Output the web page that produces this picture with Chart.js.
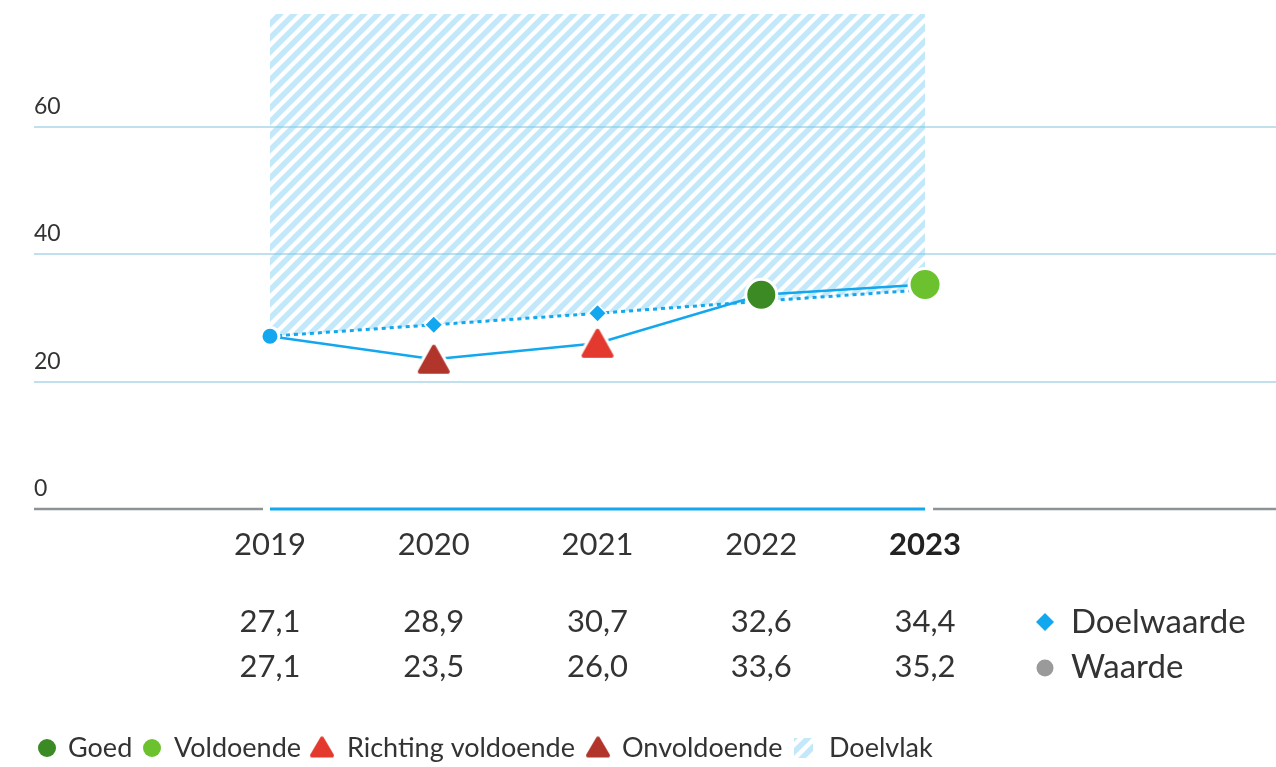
<!DOCTYPE html>
<html><head><meta charset="utf-8">
<script src="https://cdn.jsdelivr.net/npm/chart.js@4.4.1/dist/chart.umd.min.js"></script>
<style>html,body{margin:0;padding:0;background:#fff;overflow:hidden;}#wrap{width:1276px;height:767px;position:relative;overflow:hidden;}canvas{display:block;}</style>
</head><body><div id="wrap"><canvas id="c"></canvas></div>
<script>
// ---- data ----
const years = ['2019', '2020', '2021', '2022', '2023'];
const doelwaarde = [27.1, 28.9, 30.7, 32.6, 34.4];
const waarde = [27.1, 23.5, 26.0, 33.6, 35.2];
const oordeel = ['geen', 'Onvoldoende', 'Richting voldoende', 'Goed', 'Voldoende'];
const yTickValues = [0, 20, 40, 60];
const legendLabels = ['Goed', 'Voldoende', 'Richting voldoende', 'Onvoldoende', 'Doelvlak'];
const tableLabels = ['Doelwaarde', 'Waarde'];

// ---- styles ----
const BLUE = '#12a7ee';
const TEXT = '#333333';
const FONT = 'Lato';
const COLORS = {
  'geen': BLUE,
  'Goed': '#3b8a24',
  'Voldoende': '#6cc22e',
  'Richting voldoende': '#e3392e',
  'Onvoldoende': '#b1352b'
};

function makePattern() {
  const p = 14;
  const c = document.createElement('canvas');
  c.width = p; c.height = p;
  const g = c.getContext('2d');
  g.strokeStyle = 'rgba(120,205,245,0.45)';
  g.lineWidth = 5.5;
  for (let k = -1; k <= 1; k++) {
    g.beginPath();
    g.moveTo(k * p - 2, p + 2);
    g.lineTo(k * p + p + 2, -2);
    g.stroke();
  }
  return c;
}
const patCanvas = makePattern();

function makeTriangle(color, w, h, outline) {
  const pad = outline ? 5 : 2;
  const c = document.createElement('canvas');
  c.width = w + pad * 2; c.height = h + pad * 2;
  const g = c.getContext('2d');
  const path = () => {
    g.beginPath();
    g.moveTo(pad + w / 2, pad + 2);
    g.lineTo(pad + w - 2, pad + h - 2);
    g.lineTo(pad + 2, pad + h - 2);
    g.closePath();
  };
  g.lineJoin = 'round';
  if (outline) {
    path(); g.strokeStyle = '#fff'; g.lineWidth = 10; g.stroke();
  }
  path(); g.fillStyle = color; g.fill();
  g.strokeStyle = color; g.lineWidth = 4; g.stroke();
  return c;
}

const pointStyles = oordeel.map(o => (o === 'Onvoldoende' || o === 'Richting voldoende') ? makeTriangle(COLORS[o], 32, 29, true) : 'circle');
const pointRadii = oordeel.map(o => o === 'geen' ? 9 : (o === 'Goed' ? 15.5 : 16));
const pointColors = oordeel.map(o => COLORS[o]);

const ctx = document.getElementById('c').getContext('2d');
const pattern = ctx.createPattern(patCanvas, 'repeat');

const fmt = v => v.toFixed(1).replace('.', ',');

const overlay = {
  id: 'overlay',
  beforeDatasetsDraw(chart) {
    const c = chart.ctx, x = chart.scales.x, y = chart.scales.y, a = chart.chartArea;
    const y0 = y.getPixelForValue(0);
    const xs = x.getPixelForValue(0), xe = x.getPixelForValue(years.length - 1);
    c.save();
    c.lineCap = 'butt';
    c.strokeStyle = '#8c9397'; c.lineWidth = 2.5;
    c.beginPath(); c.moveTo(a.left, y0); c.lineTo(xs - 7, y0); c.stroke();
    c.beginPath(); c.moveTo(xe + 8, y0); c.lineTo(a.right, y0); c.stroke();
    c.strokeStyle = BLUE; c.lineWidth = 3;
    c.beginPath(); c.moveTo(xs, y0); c.lineTo(xe, y0); c.stroke();
    c.restore();
  },
  afterDraw(chart) {
    const c = chart.ctx, x = chart.scales.x;
    c.save();
    c.fillStyle = TEXT;
    c.textAlign = 'center'; c.textBaseline = 'middle';
    years.forEach((yr, i) => {
      const px = x.getPixelForValue(i);
      c.font = (i === years.length - 1 ? 'bold ' : '') + '31px ' + FONT;
      c.fillStyle = i === years.length - 1 ? '#222' : TEXT;
      c.fillText(yr, px, 545);
      c.fillStyle = TEXT;
      c.font = '31px ' + FONT;
      c.fillText(fmt(doelwaarde[i]), px, 622);
      c.fillText(fmt(waarde[i]), px, 667);
    });
    // right-hand legend of the table
    c.textAlign = 'left';
    c.font = '33px ' + FONT;
    c.fillStyle = BLUE;
    c.beginPath(); c.moveTo(1045, 613); c.lineTo(1054, 622); c.lineTo(1045, 631); c.lineTo(1036, 622); c.closePath(); c.fill();
    c.fillStyle = '#9a9a9a';
    c.beginPath(); c.arc(1045, 668, 8.5, 0, Math.PI * 2); c.fill();
    c.fillStyle = TEXT;
    c.fillText(tableLabels[0], 1071, 622);
    c.fillText(tableLabels[1], 1071, 667);

    // bottom legend
    const ly = 748;
    c.font = '27px ' + FONT;
    c.fillStyle = COLORS['Goed'];
    c.beginPath(); c.arc(47, ly, 9, 0, Math.PI * 2); c.fill();
    c.fillStyle = TEXT; c.fillText(legendLabels[0], 68, ly);
    c.fillStyle = COLORS['Voldoende'];
    c.beginPath(); c.arc(152, ly, 9, 0, Math.PI * 2); c.fill();
    c.fillStyle = TEXT; c.fillText(legendLabels[1], 174, ly);
    const t1 = makeTriangle(COLORS['Richting voldoende'], 24, 21, false);
    c.drawImage(t1, 322 - t1.width / 2, ly - t1.height / 2 - 1);
    c.fillStyle = TEXT; c.fillText(legendLabels[2], 347, ly);
    const t2 = makeTriangle(COLORS['Onvoldoende'], 24, 21, false);
    c.drawImage(t2, 598 - t2.width / 2, ly - t2.height / 2 - 1);
    c.fillStyle = TEXT; c.fillText(legendLabels[3], 622, ly);
    c.fillStyle = pattern;
    c.save(); c.translate(794, ly - 10); c.fillRect(0, 0, 19, 20); c.restore();
    c.fillStyle = TEXT; c.fillText(legendLabels[4], 829, ly);
    c.restore();
  }
};

new Chart(ctx, {
  type: 'line',
  data: {
    datasets: [
      {
        label: tableLabels[1],
        data: waarde.map((v, i) => ({ x: i, y: v })),
        borderColor: BLUE,
        borderWidth: 2.5,
        pointStyle: pointStyles,
        pointRadius: pointRadii,
        pointBackgroundColor: pointColors,
        pointBorderColor: '#ffffff',
        pointBorderWidth: 3,
        fill: false,
        clip: false,
        order: 0
      },
      {
        label: tableLabels[0],
        data: doelwaarde.map((v, i) => ({ x: i, y: v })),
        borderColor: BLUE,
        borderWidth: 3,
        borderDash: [4, 4],
        pointStyle: 'rectRot',
        pointRadius: 9,
        pointBackgroundColor: BLUE,
        pointBorderColor: '#ffffff',
        pointBorderWidth: 1.5,
        fill: 'end',
        backgroundColor: pattern,
        order: 1
      }
    ]
  },
  options: {
    responsive: true,
    maintainAspectRatio: false,
    animation: false,
    layout: { autoPadding: false, padding: { left: 34, right: 0, top: 14, bottom: 258 } },
    plugins: { legend: { display: false }, tooltip: { enabled: false } },
    scales: {
      x: {
        type: 'linear', min: -1.441, max: 6.143, display: false
      },
      y: {
        min: 0, max: 77.65,
        border: { display: false },
        grid: {
          drawTicks: false,
          lineWidth: 2,
          color: c => (c.tick && c.tick.value === 0) ? 'rgba(0,0,0,0)' : '#bfe0ec'
        },
        afterBuildTicks: s => { s.ticks = yTickValues.map(v => ({ value: v })); },
        ticks: {
          mirror: true, padding: 0, labelOffset: -20,
          color: TEXT, font: { family: FONT, size: 23 },
          callback: v => String(v)
        }
      }
    }
  },
  plugins: [overlay]
});
</script>
</body></html>
